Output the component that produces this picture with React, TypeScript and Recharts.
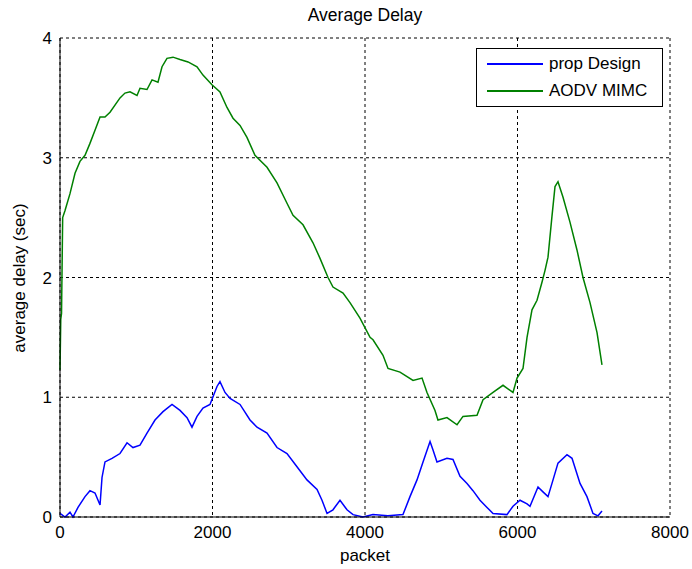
import React from 'react';
import { LineChart, Line, XAxis, YAxis, CartesianGrid } from 'recharts';

const xTicks = [0, 2000, 4000, 6000, 8000];
const yTicks = [0, 1, 2, 3, 4];

// packet index / average delay (sec)
const propPacket = [
  0, 66, 131, 170, 236, 328, 393, 459, 525, 551, 590, 682, 787, 879, 957, 1049, 1141, 1246, 1351,
  1469, 1574, 1666, 1731, 1797, 1875, 1967, 2059, 2098, 2164, 2230, 2361, 2492, 2584, 2715, 2846,
  2977, 3108, 3239, 3371, 3436, 3502, 3580, 3672, 3764, 3843, 3974, 4105, 4300, 4498, 4590, 4682,
  4761, 4853, 4892, 4944, 5075, 5154, 5246, 5338, 5416, 5508, 5600, 5679, 5862, 5941, 6033, 6125,
  6164, 6269, 6334, 6400, 6466, 6531, 6649, 6715, 6820, 6911, 6990, 7056, 7108,
];
const propDelay = [
  0.03, 0.0, 0.04, 0.0, 0.08, 0.17, 0.22, 0.2, 0.1, 0.33, 0.46, 0.49, 0.53, 0.62, 0.58, 0.6, 0.7,
  0.81, 0.88, 0.94, 0.89, 0.83, 0.75, 0.84, 0.91, 0.94, 1.09, 1.13, 1.04, 0.99, 0.94, 0.81, 0.75,
  0.7, 0.58, 0.53, 0.42, 0.31, 0.23, 0.14, 0.03, 0.06, 0.14, 0.06, 0.02, 0.0, 0.02, 0.01, 0.02,
  0.17, 0.31, 0.46, 0.63, 0.56, 0.46, 0.49, 0.48, 0.34, 0.28, 0.22, 0.14, 0.08, 0.03, 0.02, 0.09,
  0.14, 0.11, 0.09, 0.25, 0.21, 0.17, 0.31, 0.45, 0.52, 0.49, 0.28, 0.17, 0.03, 0.01, 0.05,
];

const aodvPacket = [
  0, 10, 20, 35, 66, 131, 197, 262, 328, 393, 459, 525, 590, 656, 787, 852, 918, 1010, 1049, 1141,
  1207, 1285, 1338, 1403, 1482, 1574, 1679, 1797, 1875, 1993, 2098, 2190, 2269, 2361, 2452, 2557,
  2715, 2846, 2977, 3056, 3187, 3318, 3410, 3515, 3580, 3712, 3803, 3934, 4066, 4105, 4236, 4302,
  4459, 4630, 4748, 4813, 4918, 4957, 5075, 5207, 5285, 5469, 5548, 5679, 5810, 5941, 5994, 6072,
  6125, 6190, 6256, 6321, 6361, 6400, 6452, 6492, 6531, 6597, 6689, 6780, 6859, 6951, 7043, 7108,
];
const aodvDelay = [
  1.23, 1.65, 1.7, 2.5, 2.56, 2.7, 2.87, 2.97, 3.02, 3.12, 3.23, 3.34, 3.34, 3.38, 3.5, 3.54, 3.55,
  3.52, 3.58, 3.57, 3.65, 3.63, 3.76, 3.83, 3.84, 3.82, 3.8, 3.76, 3.69, 3.61, 3.55, 3.42, 3.33,
  3.27, 3.17, 3.02, 2.92, 2.79, 2.62, 2.52, 2.44, 2.29, 2.16, 2.0, 1.92, 1.87, 1.79, 1.66, 1.5,
  1.48, 1.35, 1.24, 1.21, 1.14, 1.16, 1.04, 0.89, 0.81, 0.83, 0.77, 0.84, 0.85, 0.98, 1.04, 1.1,
  1.04, 1.16, 1.24, 1.5, 1.73, 1.81, 1.96, 2.06, 2.17, 2.51, 2.76, 2.8, 2.67, 2.46, 2.23, 2.0, 1.79,
  1.54, 1.27,
];

const propData = propPacket.map((p, i) => ({ packet: p, delay: propDelay[i] }));
const aodvData = aodvPacket.map((p, i) => ({ packet: p, delay: aodvDelay[i] }));

const FONT = 'Arial, "Liberation Sans", sans-serif';

const legendItems = [
  { name: 'prop Design', color: '#0000ff', y: 15 },
  { name: 'AODV MIMC', color: '#008000', y: 42 },
];

const LegendBox = () => (
  <div
    style={{
      position: 'absolute',
      left: 476,
      top: 48,
      width: 185,
      height: 57,
      border: '1px solid #000',
      background: '#fff',
      fontFamily: FONT,
      fontSize: 17,
      color: '#000',
    }}
  >
    {legendItems.map((it) => (
      <div
        key={it.name}
        style={{ position: 'absolute', left: 10, top: it.y - 11, height: 22, display: 'flex', alignItems: 'center' }}
      >
        <div style={{ width: 56, height: 1.5, background: it.color }} />
        <span style={{ marginLeft: 6 }}>{it.name}</span>
      </div>
    ))}
  </div>
);

export default function App() {
  return (
    <div style={{ position: 'absolute', left: 0, top: 0, width: 692, height: 569, background: '#fff', fontFamily: FONT }}>
      <LineChart width={692} height={569} margin={{ top: 38, right: 22, bottom: 22, left: 0 }}>
        <CartesianGrid stroke="#000" strokeDasharray="3 3" strokeWidth={1} />
        <XAxis
          type="number"
          dataKey="packet"
          domain={[0, 8000]}
          ticks={xTicks}
          height={30}
          tickLine={false}
          tickSize={0}
          tickMargin={9}
          axisLine={{ stroke: '#000' }}
          tick={{ fill: '#000', fontSize: 17, fontFamily: FONT }}
          allowDuplicatedCategory={false}
        />
        <YAxis
          type="number"
          domain={[0, 4]}
          ticks={yTicks}
          width={60}
          tickLine={false}
          tickSize={0}
          tickMargin={8}
          axisLine={{ stroke: '#000' }}
          tick={{ fill: '#000', fontSize: 17, fontFamily: FONT }}
        />
        <Line
          data={propData}
          dataKey="delay"
          name="prop Design"
          stroke="#0000ff"
          strokeWidth={1.5}
          dot={false}
          isAnimationActive={false}
          type="linear"
        />
        <Line
          data={aodvData}
          dataKey="delay"
          name="AODV MIMC"
          stroke="#008000"
          strokeWidth={1.5}
          dot={false}
          isAnimationActive={false}
          type="linear"
        />
      </LineChart>
      <LegendBox />
      <div
        style={{
          position: 'absolute',
          left: 0,
          width: 692,
          top: 5,
          textAlign: 'center',
          paddingLeft: 38,
          boxSizing: 'border-box',
          fontSize: 17.5,
          color: '#000',
        }}
      >
        Average Delay
      </div>
      <div style={{ position: 'absolute', left: 60, width: 610, top: 546, textAlign: 'center', fontSize: 17, color: '#000' }}>
        packet
      </div>
      <div
        style={{
          position: 'absolute',
          left: 20,
          top: 278,
          transform: 'translate(-50%, -50%) rotate(-90deg)',
          whiteSpace: 'nowrap',
          fontSize: 17,
          color: '#000',
        }}
      >
        average delay (sec)
      </div>
    </div>
  );
}
